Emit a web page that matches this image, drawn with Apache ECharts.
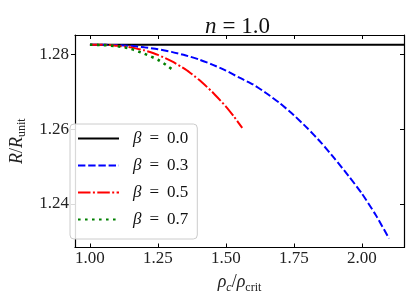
<!DOCTYPE html>
<html>
<head>
<meta charset="utf-8">
<script src="https://cdn.jsdelivr.net/npm/echarts@6/dist/echarts.min.js"></script>
<style>html,body{margin:0;padding:0;background:#fff}#c{width:407px;height:305px}</style>
</head>
<body>
<div id="c"></div>
<script>
// ---- data ----
const xTicks = [1.00, 1.25, 1.50, 1.75, 2.00];
const yTicks = [1.24, 1.26, 1.28];
const seriesNames = ['β = 0.0', 'β = 0.3', 'β = 0.5', 'β = 0.7'];
const betaLabels = ['0.0', '0.3', '0.5', '0.7'];

const beta00X = [1.00, 2.20];
const beta00Y = [1.2825, 1.2825];

const beta03X = [1.00, 1.05, 1.10, 1.15, 1.20, 1.25, 1.30, 1.35, 1.40, 1.45, 1.50, 1.55, 1.60, 1.65, 1.70, 1.75, 1.80, 1.85, 1.90, 1.95, 2.00, 2.05, 2.10];
const beta03Y = [1.2825, 1.2825, 1.2824, 1.2822, 1.2818, 1.2813, 1.2806, 1.2797, 1.2786, 1.2772, 1.2756, 1.2737, 1.2719, 1.2695, 1.2668, 1.2637, 1.2602, 1.2564, 1.2521, 1.2476, 1.2428, 1.2372, 1.2308];

const beta05X = [1.00, 1.05, 1.10, 1.15, 1.20, 1.25, 1.30, 1.35, 1.40, 1.45, 1.50, 1.53, 1.56];
const beta05Y = [1.2825, 1.2825, 1.2822, 1.2818, 1.2810, 1.2798, 1.2781, 1.2760, 1.2732, 1.2699, 1.2660, 1.2633, 1.2603];

const beta07X = [1.00, 1.05, 1.10, 1.15, 1.20, 1.25, 1.28, 1.31];
const beta07Y = [1.2825, 1.2824, 1.2821, 1.2814, 1.2801, 1.2785, 1.2771, 1.2755];

function pairs(xs, ys) { return xs.map((x, i) => [x, ys[i]]); }

const FONT = 'Liberation Serif';
const chart = echarts.init(document.getElementById('c'), null, {renderer: 'canvas'});

const axisLineStyle = {color: '#000', width: 1.2};

const option = {
  animation: false,
  backgroundColor: '#fff',
  title: {
    text: '{i|n}{e|=}{r|1.0}',
    left: 232.5,
    top: 10,
    textAlign: 'center',
    textStyle: {
      fontWeight: 'normal',
      rich: {
        i: {fontFamily: FONT, fontSize: 23, fontStyle: 'italic', fontWeight: 'normal', color: '#111'},
        e: {fontFamily: FONT, fontSize: 23, fontWeight: 'normal', color: '#111', padding: [0, 6, 0, 6]},
        r: {fontFamily: FONT, fontSize: 23, fontWeight: 'normal', color: '#111'}
      }
    }
  },
  grid: {left: 61, right: 3, top: 35, bottom: 57.5, containLabel: false},
  legend: {
    orient: 'vertical',
    left: 70,
    top: 124,
    itemWidth: 41,
    itemHeight: 14,
    itemGap: 10,
    padding: [6, 9, 11, 7],
    backgroundColor: 'rgba(255,255,255,0.85)',
    borderColor: '#cccccc',
    borderWidth: 1,
    borderRadius: 4,
    itemStyle: {color: 'rgba(0,0,0,0)', opacity: 0, borderWidth: 0},
    data: seriesNames,
    formatter: function (name) {
      const idx = seriesNames.indexOf(name);
      return '{i|β}{e|=}{r|' + betaLabels[idx] + '}';
    },
    textStyle: {
      padding: [0, 0, 0, 9],
      rich: {
        i: {fontFamily: FONT, fontSize: 17, fontStyle: 'italic', color: '#111'},
        e: {fontFamily: FONT, fontSize: 17, color: '#111', padding: [0, 8, 0, 8]},
        r: {fontFamily: FONT, fontSize: 17, color: '#111'}
      }
    }
  },
  xAxis: [{
    type: 'value', min: 0.945, max: 2.155, position: 'bottom',
    axisLine: {show: true, lineStyle: axisLineStyle},
    axisTick: {show: true, inside: true, length: 4, customValues: xTicks, lineStyle: {color: '#000', width: 1}},
    axisLabel: {customValues: xTicks, formatter: v => v.toFixed(2), fontFamily: FONT, fontSize: 17, color: '#222', margin: 3},
    splitLine: {show: false},
    name: '{i|ρ}{s|c}{r|/}{i|ρ}{t|crit}',
    nameLocation: 'middle',
    nameGap: 24,
    nameTextStyle: {
      rich: {
        i: {fontFamily: FONT, fontSize: 18, fontStyle: 'italic', color: '#222', lineHeight: 22},
        r: {fontFamily: FONT, fontSize: 18, color: '#222', lineHeight: 22},
        s: {fontFamily: FONT, fontSize: 12, fontStyle: 'italic', color: '#222', verticalAlign: 'bottom'},
        t: {fontFamily: FONT, fontSize: 12, color: '#222', verticalAlign: 'bottom'}
      }
    }
  }, {
    type: 'value', min: 0.945, max: 2.155, position: 'top',
    axisLine: {show: true, lineStyle: axisLineStyle},
    axisTick: {show: true, inside: true, length: 4, customValues: xTicks, lineStyle: {color: '#000', width: 1}},
    axisLabel: {show: false},
    splitLine: {show: false}
  }],
  yAxis: [{
    type: 'value', min: 1.2284, max: 1.2851, position: 'left',
    axisLine: {show: true, lineStyle: axisLineStyle},
    axisTick: {show: true, inside: false, length: 4, customValues: yTicks, lineStyle: {color: '#000', width: 1}},
    axisLabel: {customValues: yTicks, formatter: v => v.toFixed(2), fontFamily: FONT, fontSize: 17, color: '#222', margin: 6},
    splitLine: {show: false},
    name: '{i|R}{r|/}{i|R}{t|unit}',
    nameLocation: 'middle',
    nameRotate: 90,
    nameGap: 47,
    nameTextStyle: {
      rich: {
        i: {fontFamily: FONT, fontSize: 18, fontStyle: 'italic', color: '#222', lineHeight: 22},
        r: {fontFamily: FONT, fontSize: 18, color: '#222', lineHeight: 22},
        t: {fontFamily: FONT, fontSize: 12, color: '#222', verticalAlign: 'bottom'}
      }
    }
  }, {
    type: 'value', min: 1.2284, max: 1.2851, position: 'right',
    axisLine: {show: true, lineStyle: axisLineStyle},
    axisTick: {show: true, inside: true, length: 4, customValues: yTicks, lineStyle: {color: '#000', width: 1}},
    axisLabel: {show: false},
    splitLine: {show: false}
  }],
  series: [{
    name: seriesNames[0], type: 'line', symbol: 'none', clip: true,
    data: pairs(beta00X, beta00Y),
    lineStyle: {color: '#000000', width: 2, type: 'solid'},
    itemStyle: {color: '#000000'}
  }, {
    name: seriesNames[1], type: 'line', symbol: 'none', smooth: 0.2, clip: true,
    data: pairs(beta03X, beta03Y),
    lineStyle: {color: '#0000ff', width: 2, type: [7.4, 2.8]},
    itemStyle: {color: '#0000ff'}
  }, {
    name: seriesNames[2], type: 'line', symbol: 'none', smooth: 0.2, clip: true,
    data: pairs(beta05X, beta05Y),
    lineStyle: {color: '#ff0000', width: 2, type: [12.5, 2.4, 2, 2.4]},
    itemStyle: {color: '#ff0000'}
  }, {
    name: seriesNames[3], type: 'line', symbol: 'none', smooth: 0.2, clip: true,
    data: pairs(beta07X, beta07Y),
    lineStyle: {color: '#008000', width: 2.6, type: [2.6, 4.4]},
    itemStyle: {color: '#008000'}
  }]
};
chart.setOption(option);
</script>
</body>
</html>
